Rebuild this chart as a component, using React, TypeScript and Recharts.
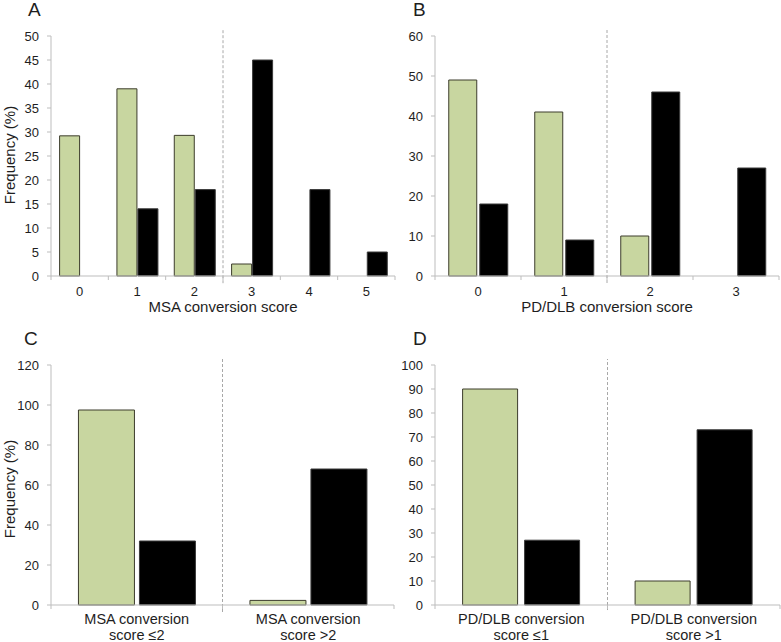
import React from 'react';
import { BarChart, Bar, XAxis, YAxis, ReferenceLine } from 'recharts';

// ---------- Data ----------
// Panel A: MSA conversion score
const msaScoreLabels = ['0', '1', '2', '3', '4', '5'];
const msaGreen = [29.2, 39, 29.3, 2.5, 0, 0];
const msaBlack = [0, 14, 18, 45, 18, 5];
const msaYTicks = [0, 5, 10, 15, 20, 25, 30, 35, 40, 45, 50];

// Panel B: PD/DLB conversion score
const pdScoreLabels = ['0', '1', '2', '3'];
const pdGreen = [49, 41, 10, 0];
const pdBlack = [18, 9, 46, 27];
const pdYTicks = [0, 10, 20, 30, 40, 50, 60];

// Panel C: MSA conversion score dichotomised
const msaBinLabels = ['MSA conversion\nscore ≤2', 'MSA conversion\nscore >2'];
const msaBinGreen = [97.5, 2.3];
const msaBinBlack = [32, 68];
const msaBinYTicks = [0, 20, 40, 60, 80, 100, 120];

// Panel D: PD/DLB conversion score dichotomised
const pdBinLabels = ['PD/DLB conversion\nscore ≤1', 'PD/DLB conversion\nscore >1'];
const pdBinGreen = [90, 10];
const pdBinBlack = [27, 73];
const pdBinYTicks = [0, 10, 20, 30, 40, 50, 60, 70, 80, 90, 100];

// ---------- Styles ----------
const FONT = '"Liberation Sans", Arial, Helvetica, sans-serif';
const AXIS = '#bdbdbd';
const TEXT = '#1e1e1e';
const GREEN = '#c8d6a0';
const GREEN_STROKE = '#3c3c2c';
const BLACK = '#000000';
const BLACK_STROKE = '#3a3a3a';
const DIVIDER = '#a8a8a8';

type PanelProps = {
  left: number;
  top: number;
  width: number;
  height: number;
  margin: { top: number; right: number; bottom: number; left: number };
  yWidth: number;
  xHeight: number;
  labels: string[];
  green: number[];
  black: number[];
  yTicks: number[];
  divider: number;
  dividerSpan: [number, number];
  gapPct: string;
  barGap: number;
  tickFont: number;
  firstLine: number;
  lineStep: number;
};

const makeTick = (
  labels: string[],
  fontSize: number,
  halfBand: number,
  firstLine: number,
  lineStep: number
) => (props: any) => {
  const { x, y, payload, index } = props;
  const off = halfBand;
  const lines = (labels[index] ?? String(payload.value)).split('\n');
  return (
    <g>
      <line x1={x - off} x2={x - off} y1={y} y2={y + 4} stroke={AXIS} strokeWidth={1} />
      {index === labels.length - 1 && (
        <line x1={x + off} x2={x + off} y1={y} y2={y + 4} stroke={AXIS} strokeWidth={1} />
      )}
      <text x={x} y={y + firstLine} textAnchor="middle" fontSize={fontSize} fill={TEXT} fontFamily={FONT}>
        {lines.map((l, i) => (
          <tspan key={i} x={x} dy={i === 0 ? 0 : lineStep}>
            {l}
          </tspan>
        ))}
      </text>
    </g>
  );
};

function Panel(p: PanelProps) {
  const data = p.labels.map((l, i) => ({
    cat: String(i),
    pos: i + 0.5,
    green: p.green[i],
    black: p.black[i],
  }));
  const n = p.labels.length;
  const yMax = p.yTicks[p.yTicks.length - 1];
  const plotWidth = p.width - p.margin.left - p.margin.right - p.yWidth;
  const halfBand = plotWidth / n / 2;
  return (
    <div style={{ position: 'absolute', left: p.left, top: p.top }}>
      <BarChart
        width={p.width}
        height={p.height}
        data={data}
        margin={p.margin}
        barCategoryGap={p.gapPct}
        barGap={p.barGap}
      >
        <XAxis
          dataKey="cat"
          type="category"
          interval={0}
          height={p.xHeight}
          axisLine={{ stroke: AXIS }}
          tickLine={false}
          tickSize={0}
          tickMargin={0}
          tick={makeTick(p.labels, p.tickFont, halfBand, p.firstLine, p.lineStep)}
        />
        <XAxis xAxisId="num" dataKey="pos" type="number" domain={[0, n]} allowDataOverflow hide />
        <YAxis
          type="number"
          domain={[0, yMax]}
          ticks={p.yTicks}
          interval={0}
          width={p.yWidth}
          axisLine={{ stroke: AXIS }}
          tickLine={{ stroke: AXIS }}
          tickSize={4}
          tickMargin={8}
          tick={{ fill: TEXT, fontSize: 13, fontFamily: FONT }}
        />
        <ReferenceLine
          xAxisId="num"
          segment={[
            { x: p.divider, y: p.dividerSpan[0] },
            { x: p.divider, y: p.dividerSpan[1] },
          ]}
          stroke={DIVIDER}
          strokeDasharray="3 2"
          ifOverflow="visible"
        />
        <Bar dataKey="green" fill={GREEN} stroke={GREEN_STROKE} strokeWidth={1} isAnimationActive={false} />
        <Bar dataKey="black" fill={BLACK} stroke={BLACK_STROKE} strokeWidth={1} isAnimationActive={false} />
      </BarChart>
    </div>
  );
}

const textBase: React.CSSProperties = {
  position: 'absolute',
  fontFamily: FONT,
  color: TEXT,
  whiteSpace: 'nowrap',
};

function Letter({ ch, left, top }: { ch: string; left: number; top: number }) {
  return <div style={{ ...textBase, left, top, fontSize: 19, lineHeight: '19px' }}>{ch}</div>;
}

function XTitle({ text, cx, top }: { text: string; cx: number; top: number }) {
  return (
    <div style={{ ...textBase, left: cx, top, fontSize: 15, lineHeight: '15px', transform: 'translateX(-50%)' }}>
      {text}
    </div>
  );
}

function YTitle({ text, cx, cy }: { text: string; cx: number; cy: number }) {
  return (
    <div
      style={{
        ...textBase,
        left: cx,
        top: cy,
        fontSize: 15,
        lineHeight: '15px',
        transform: 'translate(-50%, -50%) rotate(-90deg)',
      }}
    >
      {text}
    </div>
  );
}

export default function App() {
  return (
    <div
      style={{
        position: 'absolute',
        left: 0,
        top: 0,
        width: 781,
        height: 642,
        background: '#ffffff',
        overflow: 'hidden',
        fontFamily: FONT,
      }}
    >
      <Panel
        left={0}
        top={0}
        width={400}
        height={320}
        margin={{ top: 36, right: 5, bottom: 0, left: 0 }}
        yWidth={51}
        xHeight={44}
        labels={msaScoreLabels}
        green={msaGreen}
        black={msaBlack}
        yTicks={msaYTicks}
        divider={3}
        dividerSpan={[-1.5, 51.5]}
        gapPct="15%"
        barGap={1}
        tickFont={13}
        firstLine={20}
        lineStep={15}
      />
      <Panel
        left={390}
        top={0}
        width={391}
        height={320}
        margin={{ top: 36, right: 2, bottom: 0, left: 0 }}
        yWidth={45}
        xHeight={44}
        labels={pdScoreLabels}
        green={pdGreen}
        black={pdBlack}
        yTicks={pdYTicks}
        divider={2}
        dividerSpan={[-1.75, 61.75]}
        gapPct="16%"
        barGap={3}
        tickFont={13}
        firstLine={20}
        lineStep={15}
      />
      <Panel
        left={0}
        top={320}
        width={400}
        height={322}
        margin={{ top: 45, right: 6, bottom: 0, left: 0 }}
        yWidth={51}
        xHeight={37}
        labels={msaBinLabels}
        green={msaBinGreen}
        black={msaBinBlack}
        yTicks={msaBinYTicks}
        divider={1}
        dividerSpan={[-3.5, 123]}
        gapPct="16%"
        barGap={5}
        tickFont={14.5}
        firstLine={19}
        lineStep={16}
      />
      <Panel
        left={390}
        top={320}
        width={391}
        height={322}
        margin={{ top: 45, right: 1, bottom: 0, left: 0 }}
        yWidth={45}
        xHeight={37}
        labels={pdBinLabels}
        green={pdBinGreen}
        black={pdBinBlack}
        yTicks={pdBinYTicks}
        divider={1}
        dividerSpan={[-2.1, 102.5]}
        gapPct="16%"
        barGap={7}
        tickFont={14.5}
        firstLine={19}
        lineStep={16}
      />

      <Letter ch="A" left={28} top={0} />
      <Letter ch="B" left={413} top={0} />
      <Letter ch="C" left={24} top={329} />
      <Letter ch="D" left={413} top={329} />

      <XTitle text="MSA conversion score" cx={223} top={299} />
      <XTitle text="PD/DLB conversion score" cx={607} top={299} />

      <YTitle text="Frequency (%)" cx={9} cy={155} />
      <YTitle text="Frequency (%)" cx={9} cy={489} />
    </div>
  );
}
